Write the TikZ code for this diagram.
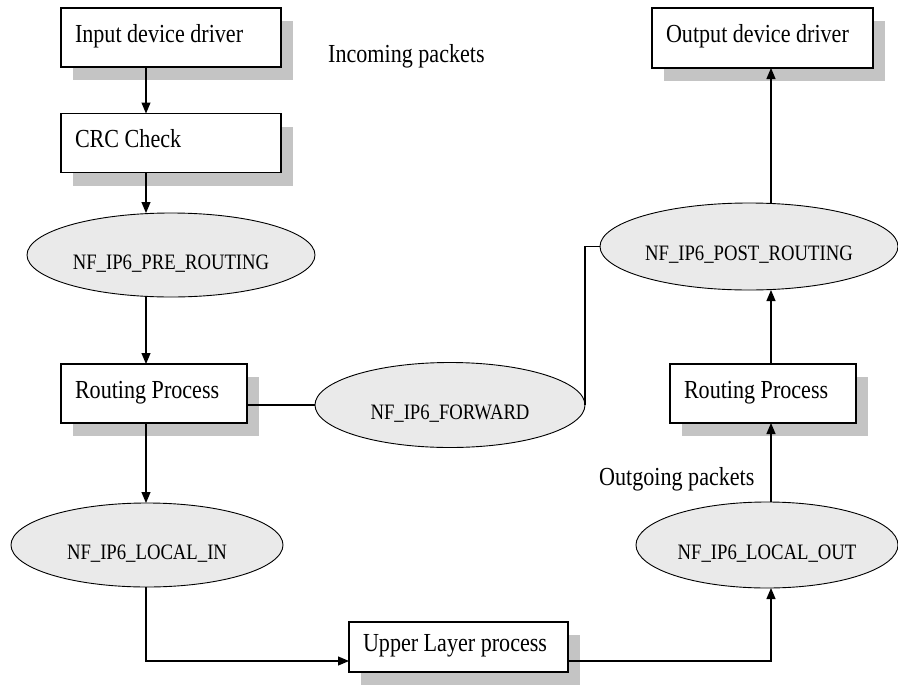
\documentclass[tikz,border=0pt]{standalone}
\usepackage{fontspec}
\setmainfont{Liberation Serif}[FakeStretch=0.85]
\usetikzlibrary{arrows.meta,shapes.geometric,shadows}
\definecolor{hookgray}{RGB}{234,234,234}
\definecolor{shadowgray}{RGB}{196,196,196}

\begin{document}
\begin{tikzpicture}[
        x=1pt, y=-1pt,
        procbox/.style = {rectangle, draw, line width=1.1pt, fill=white, outer sep=0pt,
                inner xsep=14pt, inner ysep=0pt, align=flush left, text height=18pt, text depth=9pt,
                font=\fontsize{26}{28}\selectfont,
                drop shadow={shadow xshift=12pt, shadow yshift=-13pt, fill=shadowgray, opacity=1}},
        hook/.style = {ellipse, draw, line width=0.9pt, fill=hookgray, inner sep=0pt, outer sep=0pt,
                text height=28pt, text depth=0pt, font=\fontsize{22}{24}\selectfont},
        caption/.style = {anchor=base west, inner sep=0pt, font=\fontsize{26}{28}\selectfont},
        arrow/.style = {line width=1.2pt, -{Triangle[length=11pt,width=9pt]}},
        link/.style = {line width=1.2pt}
        ]
        \useasboundingbox (0,0) rectangle (898,691);
        \coordinate (lane) at (146,0);
        \coordinate (rlane) at (771,0);

        \node[procbox, text width=192pt, minimum height=59pt] (in) at (171,37.5) {Input device driver};
        \node[procbox, text width=192pt, minimum height=59pt] (crc) at (171,143) {CRC Check};
        \node[procbox, text width=158pt, minimum height=59pt] (rpl) at (154,393.5) {Routing Process};
        \node[procbox, text width=191pt, minimum height=50pt] (upper) at (458.5,647) {Upper Layer process};
        \node[procbox, text width=158pt, minimum height=59pt] (rpr) at (763,393.5) {Routing Process};
        \node[procbox, text width=193pt, minimum height=60pt] (out) at (762.5,38) {Output device driver};

        \node[hook, minimum width=288pt, minimum height=84pt] (pre) at (171,255) {NF\_IP6\_PRE\_ROUTING};
        \node[hook, minimum width=272pt, minimum height=84pt] (localin) at (147,545) {NF\_IP6\_LOCAL\_IN};
        \node[hook, minimum width=270pt, minimum height=85pt] (fwd) at (450,405) {NF\_IP6\_FORWARD};
        \node[hook, minimum width=298pt, minimum height=87pt] (post) at (749,246.5) {NF\_IP6\_POST\_ROUTING};
        \node[hook, minimum width=262pt, minimum height=86pt] (localout) at (767,545) {NF\_IP6\_LOCAL\_OUT};

        \node[caption] (inlbl) at (328,62) {Incoming packets};
        \node[caption] (outlbl) at (599,485) {Outgoing packets};

        \draw[arrow] (in.south -| lane) -- (crc.north -| lane);
        \draw[arrow] (crc.south -| lane) -- (pre.north -| lane);
        \draw[arrow] (pre.south -| lane) -- (rpl.north -| lane);
        \draw[arrow] (rpl.south -| lane) -- (localin.north -| lane);
        \draw[arrow] (localin.south -| lane) |- ([yshift=-14pt]upper.west);
        \draw[arrow] ([yshift=-14pt]upper.east) -| (localout.south -| rlane);
        \draw[arrow] (localout.north -| rlane) -- (rpr.south -| rlane);
        \draw[arrow] (rpr.north -| rlane) -- (post.south -| rlane);
        \draw[arrow] (post.north -| rlane) -- (out.south -| rlane);
        \draw[link] (fwd.west -| rpl.east) -- (fwd.west);
        \draw[link] (fwd.east) |- (post.west);
\end{tikzpicture}
\end{document}
